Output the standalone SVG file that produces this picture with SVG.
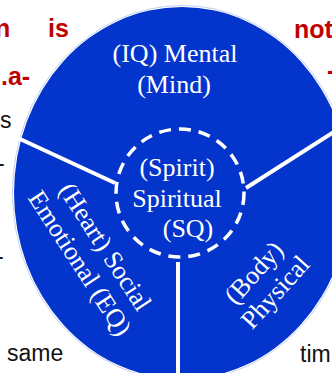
<svg xmlns="http://www.w3.org/2000/svg" width="332" height="373" viewBox="0 0 332 373">
<style>
.bg{font-family:"Liberation Sans","Open Sans",sans-serif}
.red{fill:#C00000;font-weight:bold;font-size:25px}
.blk{fill:#111;font-size:23px}
.lbl{font-family:"Liberation Serif","Times New Roman",serif;font-size:26px;fill:#fff;text-anchor:middle}
.div{stroke:#fff;stroke-width:4;fill:none}
</style>
<rect width="332" height="373" fill="#fff"/>
<g id="background-text" class="bg">
<text class="red" x="-5" y="37">n</text>
<text class="red" x="48" y="37">is</text>
<text class="red" x="294" y="38">not</text>
<text class="red" x="1" y="85">.a-</text>
<text class="red" x="327" y="79">-</text>
<text class="blk" x="0" y="128">s</text>
<text class="blk" x="-3" y="171">-</text>
<text class="blk" x="-4" y="264">-</text>
<text class="blk" x="7" y="361">same</text>
<text class="blk" x="300" y="362">tim</text>
</g>
<g id="circle">
<ellipse cx="182" cy="193" rx="169.5" ry="187.5" fill="none" stroke="#c3d0f5" stroke-width="1"/>
<ellipse cx="182" cy="193" rx="168" ry="186" fill="#0334CC"/>
</g>
<g id="connectors">
<line class="div" x1="19" y1="138.5" x2="115" y2="183"/>
<line class="div" x1="246" y1="188" x2="340" y2="128"/>
<line class="div" x1="178" y1="262" x2="178" y2="380"/>
</g>
<g id="node-spiritual">
<circle cx="180" cy="193" r="64" fill="none" stroke="#fff" stroke-width="3.5" stroke-dasharray="12 8"/>
<text class="lbl" x="177" y="176">(Spirit)</text>
<text class="lbl" x="177" y="207">Spiritual</text>
<text class="lbl" x="188" y="237">(SQ)</text>
</g>
<g id="node-mental">
<text class="lbl" x="175" y="62">(IQ) Mental</text>
<text class="lbl" x="174" y="93">(Mind)</text>
</g>
<g id="node-emotional" transform="translate(92.5,255) rotate(57)">
<text class="lbl" x="0" y="-6.5">(Heart) Social</text>
<text class="lbl" x="0" y="23.5">Emotional (EQ)</text>
</g>
<g id="node-physical" transform="translate(264.5,282.5) rotate(-48)">
<text class="lbl" x="0" y="-6">(Body)</text>
<text class="lbl" x="0" y="23">Physical</text>
</g>
</svg>
